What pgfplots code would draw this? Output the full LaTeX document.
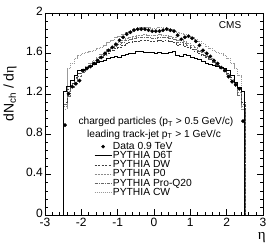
\documentclass[border=0pt]{standalone}
\usepackage{pgfplots}
\usepackage{pgfplotstable}
\pgfplotsset{compat=1.18}
\usepackage{fontspec}
\setmainfont{Liberation Sans}
\newfontfamily\symfont{Liberation Serif}

\pgfplotstableread{
x d6t dw p0 pq cw
-2.5 0 0 0 0 0
-2.5 1.22 1.12 1.08 1.10 1.05
-2.4 1.27 1.24 1.22 1.18 1.45
-2.3 1.33 1.30 1.29 1.26 1.50
-2.2 1.38 1.36 1.35 1.32 1.55
-2.1 1.43 1.40 1.40 1.37 1.58
-2.0 1.44 1.43 1.44 1.41 1.60
-1.9 1.46 1.46 1.47 1.45 1.61
-1.8 1.47 1.48 1.50 1.48 1.62
-1.7 1.49 1.51 1.53 1.51 1.63
-1.6 1.51 1.54 1.56 1.54 1.65
-1.5 1.52 1.56 1.59 1.57 1.66
-1.4 1.53 1.58 1.61 1.60 1.68
-1.3 1.55 1.60 1.64 1.62 1.71
-1.2 1.56 1.63 1.66 1.65 1.73
-1.1 1.57 1.65 1.69 1.67 1.76
-1.0 1.56 1.66 1.71 1.69 1.77
-0.9 1.58 1.68 1.73 1.71 1.79
-0.8 1.59 1.70 1.75 1.73 1.81
-0.7 1.60 1.71 1.76 1.74 1.82
-0.6 1.60 1.72 1.77 1.75 1.84
-0.5 1.62 1.72 1.78 1.76 1.85
-0.4 1.62 1.73 1.78 1.76 1.86
-0.3 1.61 1.73 1.79 1.76 1.86
-0.2 1.61 1.73 1.78 1.76 1.86
-0.1 1.61 1.72 1.78 1.75 1.85
0.0 1.60 1.72 1.78 1.75 1.85
0.1 1.61 1.73 1.79 1.76 1.86
0.2 1.60 1.72 1.78 1.76 1.86
0.3 1.60 1.73 1.78 1.76 1.85
0.4 1.61 1.72 1.77 1.75 1.84
0.5 1.62 1.71 1.76 1.74 1.83
0.6 1.58 1.68 1.73 1.71 1.81
0.7 1.57 1.69 1.74 1.71 1.80
0.8 1.59 1.67 1.72 1.70 1.79
0.9 1.58 1.66 1.70 1.68 1.77
1.0 1.56 1.64 1.68 1.66 1.76
1.1 1.55 1.62 1.66 1.64 1.74
1.2 1.54 1.60 1.63 1.62 1.72
1.3 1.52 1.58 1.61 1.59 1.70
1.4 1.50 1.56 1.58 1.57 1.67
1.5 1.49 1.54 1.55 1.54 1.65
1.6 1.48 1.51 1.52 1.51 1.63
1.7 1.47 1.48 1.49 1.48 1.61
1.8 1.46 1.46 1.46 1.45 1.60
1.9 1.45 1.43 1.43 1.42 1.58
2.0 1.43 1.40 1.39 1.38 1.55
2.1 1.38 1.36 1.34 1.33 1.50
2.2 1.31 1.31 1.28 1.27 1.45
2.3 1.26 1.25 1.21 1.19 1.38
2.4 1.22 1.12 1.08 1.10 1.05
2.5 1.22 1.12 1.08 1.10 1.05
2.5 0 0 0 0 0
}\mc

\pgfplotstableread{
x y
-2.45 0.89
-2.35 1.20
-2.25 1.27
-2.15 1.30
-2.05 1.33
-1.95 1.43
-1.85 1.45
-1.75 1.47
-1.65 1.50
-1.55 1.53
-1.45 1.56
-1.35 1.60
-1.25 1.63
-1.15 1.66
-1.05 1.69
-0.95 1.73
-0.85 1.76
-0.75 1.79
-0.65 1.81
-0.55 1.83
-0.45 1.84
-0.35 1.84
-0.25 1.84
-0.15 1.83
-0.05 1.82
0.05 1.82
0.15 1.82
0.25 1.83
0.35 1.84
0.45 1.83
0.55 1.82
0.65 1.78
0.75 1.74
0.85 1.76
0.95 1.77
1.05 1.75
1.15 1.72
1.25 1.68
1.35 1.63
1.45 1.60
1.55 1.57
1.65 1.53
1.75 1.50
1.85 1.46
1.95 1.43
2.05 1.37
2.15 1.32
2.25 1.29
2.35 1.25
2.45 0.93
}\data

\tikzset{
  sD6T/.style={black, line width=0.7pt},
  sDW/.style={black!75, line width=0.6pt, dash pattern=on 2pt off 1.5pt},
  sP0/.style={black!45, line width=0.6pt, dash pattern=on 2pt off 1pt on 0.6pt off 1pt on 0.6pt off 1pt},
  sPQ/.style={black!60, line width=0.6pt, dash pattern=on 3pt off 1.2pt on 0.8pt off 1.2pt},
  sCW/.style={black!40, line width=0.6pt, dash pattern=on 1.2pt off 0.8pt},
}

\begin{document}
\begin{tikzpicture}
\begin{axis}[
  name=ax,
  clip mode=individual,
  scale only axis,
  width=218pt, height=202pt,
  xmin=-3, xmax=3, ymin=0, ymax=2,
  xtick={-3,-2,...,3},
  ytick={0,0.4,0.8,1.2,1.6,2},
  yticklabels={0,0.4,0.8,1.2,1.6,2},
  minor x tick num=4,
  minor y tick num=4,
  tick align=inside,
  xtick pos=both, ytick pos=both,
  major tick length=6pt, minor tick length=3pt,
  tick style={black, line width=0.4pt},
  axis line style={line width=0.5pt},
  /pgf/number format/assume math mode=true,
  ticklabel style={font=\fontsize{12}{12}\selectfont},
  xticklabel style={inner sep=1.5pt, yshift=-1.5pt},
  yticklabel style={inner sep=2pt, yshift=2pt},
  legend cell align=left,
  legend style={draw=none, fill=none, inner sep=0pt,
    at={(axis description cs:0.225,0.366)}, anchor=north west,
    font=\fontsize{10.3}{11}\selectfont, row sep=-1.5pt,
    nodes={inner sep=1pt}},
  legend image code/.code={\draw[#1] (0pt,0pt) -- (17pt,0pt);},
]
\addlegendimage{only marks, mark=*, mark size=1.7pt, black,
  legend image code/.code={\fill[black] (8.5pt,0pt) circle (1.6pt);}}
\addlegendentry{Data 0.9 TeV}
\addlegendimage{sD6T}\addlegendentry{PYTHIA D6T}
\addlegendimage{sDW}\addlegendentry{PYTHIA DW}
\addlegendimage{sP0}\addlegendentry{PYTHIA P0}
\addlegendimage{sPQ}\addlegendentry{PYTHIA Pro-Q20}
\addlegendimage{sCW}\addlegendentry{PYTHIA CW}

\addplot[sCW, const plot mark left, forget plot] table[x=x, y=cw] {\mc};
\addplot[sP0, const plot mark left, forget plot] table[x=x, y=p0] {\mc};
\addplot[sPQ, const plot mark left, forget plot] table[x=x, y=pq] {\mc};
\addplot[sDW, const plot mark left, forget plot] table[x=x, y=dw] {\mc};
\addplot[sD6T, const plot mark left, forget plot] table[x=x, y=d6t] {\mc};
\addplot[only marks, mark=*, mark size=1.7pt, black, forget plot] table[x=x, y=y] {\data};

\node[font=\fontsize{10}{10}\selectfont] at (axis description cs:0.849,0.94) {CMS};
\node[inner sep=0pt, font=\fontsize{10.2}{11}\selectfont] at (axis description cs:0.509,0.459) {charged particles (p\textsubscript{T} > 0.5 GeV/c)};
\node[inner sep=0pt, font=\fontsize{10.2}{11}\selectfont] at (axis description cs:0.5,0.398) {leading track-jet p\textsubscript{T} > 1 GeV/c};
\node[rotate=90, font=\fontsize{14}{14}\selectfont] at (axis description cs:-0.16,0.6) {dN\textsubscript{ch} / d{\symfont η}};
\node[font=\fontsize{15}{15}\selectfont\symfont] at (axis description cs:0.994,-0.111) {η};
\end{axis}
\pgfresetboundingbox
\path[use as bounding box] ([shift={(-45pt,-33pt)}]ax.south west) rectangle ([shift={(6pt,13pt)}]ax.north east);
\end{tikzpicture}
\end{document}
